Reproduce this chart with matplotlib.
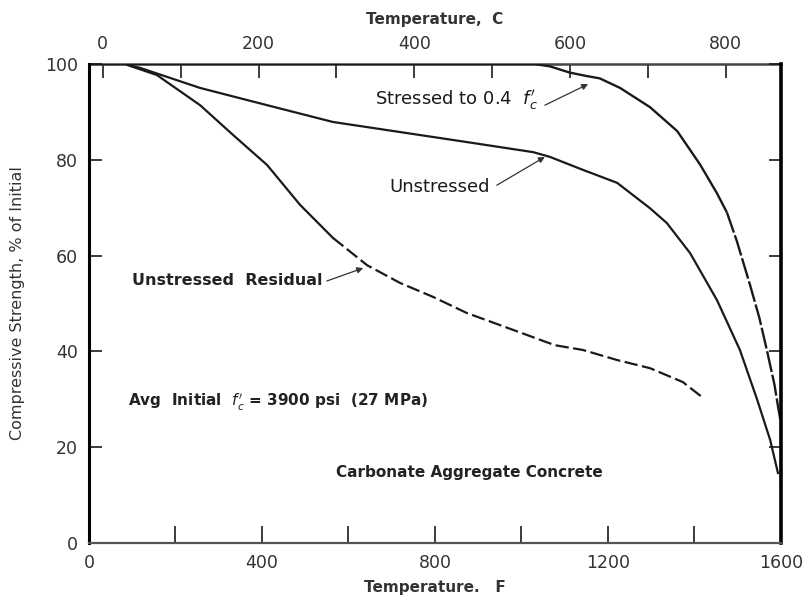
import matplotlib
matplotlib.use("Agg")
from matplotlib import pyplot as plt
from matplotlib.ticker import MultipleLocator, NullFormatter

plt.rcParams["font.family"] = ["DejaVu Sans"]
plt.rcParams["mathtext.fontset"] = "dejavusans"

# temperature (F) and strength (% of initial) for each curve
stressed_temp = [0, 400, 800, 1030, 1066, 1112, 1150, 1181, 1228, 1297, 1360, 1413, 1452, 1475]
stressed_str = [100, 100, 100, 100, 99.5, 98.2, 97.5, 97, 95, 91, 86, 79, 73, 69]
stressed_tail_temp = [1475, 1498, 1528, 1550, 1568, 1585, 1594, 1600, 1600]
stressed_tail_str = [69, 63, 54, 47, 40, 33, 28, 25, 11]

unstressed_temp = [88, 118, 257, 412, 564, 719, 874, 1027, 1066, 1142, 1221, 1297,
                   1336, 1390, 1452, 1505, 1545, 1575, 1593]
unstressed_str = [99.8, 99.2, 95.0, 91.4, 87.9, 85.8, 83.7, 81.6, 80.6, 77.9, 75.2, 69.9,
                  66.8, 60.5, 50.7, 40.3, 29.9, 21.5, 14.6]

residual_temp = [95, 157, 257, 333, 412, 488, 564]
residual_str = [99.6, 97.7, 91.4, 85.2, 78.9, 70.6, 63.7]
residual_tail_temp = [564, 643, 719, 795, 874, 950, 1077, 1142, 1221, 1297, 1373, 1417]
residual_tail_str = [63.7, 58.0, 54.3, 51.4, 48.0, 45.5, 41.3, 40.3, 38.2, 36.5, 33.6, 30.5]

y_ticks = [0, 20, 40, 60, 80, 100]
f_ticks = [0, 400, 800, 1200, 1600]
c_ticks = [0, 200, 400, 600, 800]

ink = "#1a1a1a"

fig = plt.figure(figsize=(8.03, 6.01), dpi=100)
ax = fig.add_axes([0.1108, 0.0965, 0.8618, 0.797])

ax.plot(stressed_temp, stressed_str, color=ink, lw=1.7, solid_capstyle="butt")
ax.plot(stressed_tail_temp, stressed_tail_str, color=ink, lw=1.7, dashes=(9, 1.2))
ax.plot(unstressed_temp, unstressed_str, color=ink, lw=1.6)
ax.plot(residual_temp, residual_str, color=ink, lw=1.6)
ax.plot(residual_tail_temp, residual_tail_str, color=ink, lw=1.6, dashes=(6, 2))

ax.set_xlim(0, 1600)
ax.set_ylim(0, 100)

ax.set_yticks(y_ticks)
ax.set_xticks(f_ticks)
ax.xaxis.set_minor_locator(MultipleLocator(200))
ax.xaxis.set_minor_formatter(NullFormatter())

ax.tick_params(axis="both", which="both", direction="in", colors=ink,
               labelsize=12.5, pad=8)
ax.tick_params(axis="x", which="both", length=12, width=1.2, bottom=True, top=False)
ax.tick_params(axis="y", which="both", length=9, width=1.2, left=True, right=True)
for lab in ax.get_xticklabels() + ax.get_yticklabels():
    lab.set_color("#333333")

ax.spines["left"].set_linewidth(2.2)
ax.spines["left"].set_color("black")
ax.spines["right"].set_linewidth(2.6)
ax.spines["right"].set_color("black")
ax.spines["bottom"].set_linewidth(1.6)
ax.spines["bottom"].set_color("#555555")
ax.spines["top"].set_visible(False)

# Celsius scale along the top
top = ax.secondary_xaxis("top", functions=(lambda f: (f - 32) * 5 / 9,
                                           lambda c: c * 9 / 5 + 32))
top.set_xticks(c_ticks)
top.xaxis.set_minor_locator(MultipleLocator(100))
top.xaxis.set_minor_formatter(NullFormatter())
top.tick_params(axis="x", which="both", direction="in", length=10, width=1.2,
                colors=ink, labelsize=12.5, pad=8)
for lab in top.get_xticklabels():
    lab.set_color("#333333")
top.spines["top"].set_linewidth(1.8)
top.spines["top"].set_color("#444444")
top.set_xlabel("Temperature,  C", fontsize=11, fontweight="bold", color="#333333",
               labelpad=8)

ax.set_xlabel("Temperature.   F", fontsize=11, fontweight="bold", color="#333333",
              labelpad=6)
ax.set_ylabel("Compressive Strength, % of Initial", fontsize=11.5, color="#333333",
              labelpad=14)

arrow = dict(arrowstyle="-|>", lw=0.9, color="#333333", mutation_scale=9,
             shrinkA=0, shrinkB=0)

ax.text(1038, 92.5, r"Stressed to 0.4  $f_c'$", fontsize=13, color=ink,
        ha="right", va="center")
ax.annotate("", xy=(1154, 95.8), xytext=(1054, 91.4), arrowprops=arrow)

ax.text(927, 74.3, "Unstressed", fontsize=13, color=ink, ha="right", va="center")
ax.annotate("", xy=(1054, 80.6), xytext=(943, 74.7), arrowprops=arrow)

ax.text(539, 54.9, "Unstressed  Residual", fontsize=11.5, fontweight="bold",
        color="#222222", ha="right", va="center")
ax.annotate("", xy=(634, 57.4), xytext=(550, 54.7), arrowprops=arrow)

ax.text(90, 29.4, r"Avg  Initial  $f_c'$ = 3900 psi  (27 MPa)", fontsize=11,
        fontweight="bold", color="#222222", ha="left", va="center")
ax.text(879, 14.8, "Carbonate Aggregate Concrete", fontsize=11, fontweight="bold",
        color="#222222", ha="center", va="center")

plt.savefig("out.png", dpi=100)
plt.clf()
